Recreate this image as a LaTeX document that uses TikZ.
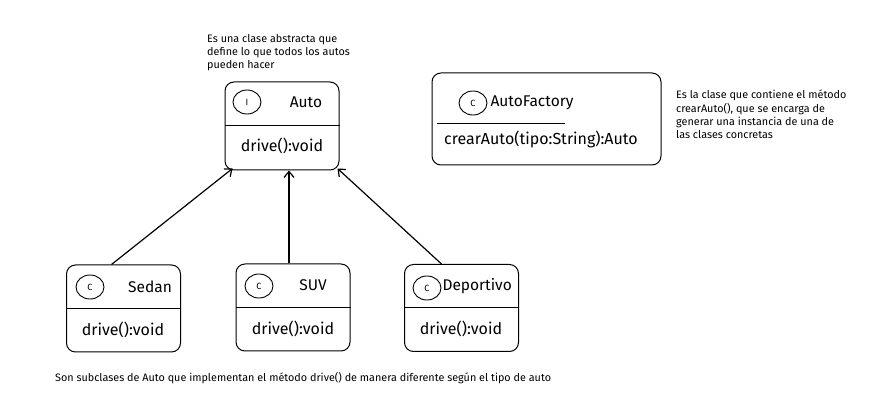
\documentclass[tikz,border=0pt]{standalone}
\usepackage{fontspec}
\setmainfont{Fira Sans}
\usetikzlibrary{shapes.geometric,arrows.meta}

\tikzset{
  klass/.style={draw, rounded corners=9pt, line width=1pt, minimum width=114pt, minimum height=87pt},
  badge/.style={draw, ellipse, line width=0.9pt, minimum width=28pt, minimum height=24pt, inner sep=0pt, font=\fontsize{9}{10}\selectfont},
  title/.style={font=\fontsize{15.5}{17}\selectfont},
  method/.style={font=\fontsize{16}{18}\selectfont},
  remark/.style={align=left, anchor=north west, inner sep=0pt, font=\fontsize{10.8}{13.3}\selectfont},
  inherit/.style={-{Straight Barb[length=6pt,width=10pt]}, line width=1.2pt}
}

\begin{document}
\begin{tikzpicture}[x=1pt,y=-1pt]
\useasboundingbox (0,0) rectangle (886,419);

% interfaz
\node[klass, minimum height=88pt] (auto) at (282,126) {};
\draw[line width=1pt] (auto.west) -- (auto.east);
\node[badge] (autoI) at (247,102) {I};
\node[title] (autoName) at (306,102) {Auto};
\node[method] (autoDrive) at (282,146) {drive():void};

% fabrica
\node[klass, minimum width=229pt, minimum height=92pt] (factory) at (546.5,119) {};
\node[badge] (factoryC) at (473,103) {C};
\node[title, anchor=west] (factoryName) at (487,103) {AutoFactory};
\draw[line width=1pt] (437,124) -- (565,124);
\node[method] (factoryMake) at (541,139) {crearAuto(tipo:String):Auto};

% clases concretas
\node[klass] (sedan) at (123.5,308.5) {};
\draw[line width=1pt] (sedan.west) -- (sedan.east);
\node[badge] (sedanC) at (90,287) {C};
\node[title] (sedanName) at (150,287) {Sedan};
\node[method] (sedanDrive) at (123,330) {drive():void};

\node[klass] (suv) at (293,307.5) {};
\draw[line width=1pt] (suv.west) -- (suv.east);
\node[badge] (suvC) at (259,286) {C};
\node[title] (suvName) at (313,285) {SUV};
\node[method] (suvDrive) at (293,329) {drive():void};

\node[klass] (sport) at (461.5,308) {};
\draw[line width=1pt] (sport.west) -- (sport.east);
\node[badge] (sportC) at (427,288) {C};
\node[title, anchor=west] (sportName) at (439,286) {Deportivo};
\node[method] (sportDrive) at (461,329) {drive():void};

% herencia
\coordinate (sedanTop) at ([xshift=-12pt]sedan.north);
\coordinate (autoL) at ([xshift=8pt,yshift=2pt]auto.south west);
\coordinate (suvTop) at ([xshift=-4pt]suv.north);
\coordinate (sportTop) at ([xshift=-20pt]sport.north);
\coordinate (autoR) at ([xshift=-2pt,yshift=2pt]auto.south east);
\draw[inherit] (sedanTop) -- (autoL);
\draw[inherit] (suvTop) -- (suvTop |- auto.south);
\draw[inherit] (sportTop) -- (autoR);

% notas
\node[remark] (noteAuto) at (207,34) {Es una clase abstracta que\\define lo que todos los autos\\pueden hacer};
\node[remark] (noteFactory) at (676,90) {Es la clase que contiene el método\\crearAuto(), que se encarga de\\generar una instancia de una de\\las clases concretas};
\node[remark, anchor=west] (noteSub) at (55,378) {Son subclases de Auto que implementan el método drive() de manera diferente según el tipo de auto};
\end{tikzpicture}
\end{document}
